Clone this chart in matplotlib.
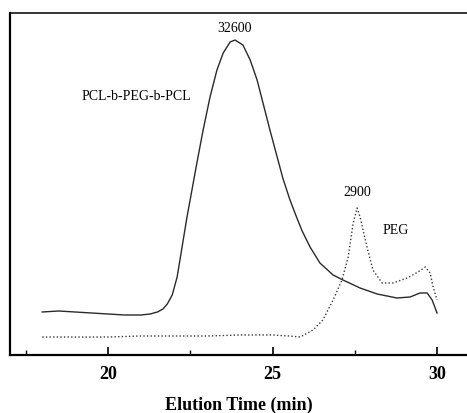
import matplotlib
matplotlib.use("Agg")
import matplotlib.pyplot as plt

# GPC traces (detector response in arbitrary units)
copolymer_time = [18.0, 18.5, 19.0, 19.5, 20.0, 20.5, 21.0, 21.28, 21.5, 21.67, 21.8,
                  21.95, 22.1, 22.25, 22.4, 22.55, 22.7, 22.89, 23.1, 23.31, 23.5,
                  23.71, 23.86, 24.1, 24.32, 24.53, 24.71, 24.92, 25.14, 25.32, 25.53,
                  25.74, 25.9, 26.14, 26.44, 26.84, 27.14, 27.66, 28.18, 28.78, 29.18,
                  29.48, 29.7, 29.85, 30.0]
copolymer_signal = [43, 44, 43, 42, 41, 40, 40, 41, 43, 46, 51,
                    60, 78, 108, 138, 165, 192, 225, 258, 285, 302,
                    313, 315, 310, 295, 275, 252, 225, 198, 176, 155,
                    137, 124, 108, 92, 80, 75, 67, 61, 57, 58,
                    62, 62, 55, 42]

peg_time = [18.0, 19.0, 20.0, 21.0, 22.0, 23.0, 24.0, 25.0, 25.5, 25.84, 26.23,
            26.53, 26.84, 27.11, 27.3, 27.45, 27.57, 27.66, 27.87, 28.05, 28.33,
            28.66, 29.09, 29.42, 29.64, 29.79, 29.88, 30.0]
peg_signal = [18, 18, 18, 19, 19, 19, 20, 20, 19, 18, 25,
              35, 55, 75, 98, 132, 147, 138, 108, 85, 72,
              72, 77, 83, 88, 82, 68, 55]

x_major_ticks = [20, 25, 30]
x_minor_ticks = [17.5, 22.5, 27.5]

plt.rcParams["font.family"] = ["Liberation Serif", "DejaVu Serif"]

fig = plt.figure(figsize=(4.67, 4.13), dpi=100)
ax = fig.add_axes([10 / 467, 58 / 413, 457 / 467, 342 / 413])

ax.plot(copolymer_time, copolymer_signal, color="#2a2a2a", linewidth=1.0)
ax.plot(peg_time, peg_signal, color="#3a3a3a", linewidth=1.0, linestyle=(0, (1, 1.6)))

ax.set_xlim(17.02, 30.91)
ax.set_ylim(0, 342)

ax.set_xticks(x_major_ticks)
ax.set_xticks(x_minor_ticks, minor=True)
ax.set_xticklabels([str(t) for t in x_major_ticks], fontsize=13, fontweight="bold")
ax.set_yticks([])
ax.tick_params(axis="x", which="major", direction="in", length=6, width=1.2, pad=8)
ax.tick_params(axis="x", which="minor", direction="in", length=3.5, width=1.0)

for side in ["left", "bottom"]:
    ax.spines[side].set_linewidth(1.6)
ax.spines["top"].set_linewidth(1.1)
ax.spines["right"].set_visible(False)

ax.set_xlabel("Elution Time (min)", fontsize=13, fontweight="bold", labelpad=10)

ax.text(23.83, 327, "32600", fontsize=10, ha="center", va="center")
ax.text(20.85, 259, "PCL-b-PEG-b-PCL", fontsize=10, ha="center", va="center")
ax.text(27.57, 163, "2900", fontsize=10, ha="center", va="center")
ax.text(28.75, 125, "PEG", fontsize=10, ha="center", va="center")

fig.savefig("out.png", dpi=100)
